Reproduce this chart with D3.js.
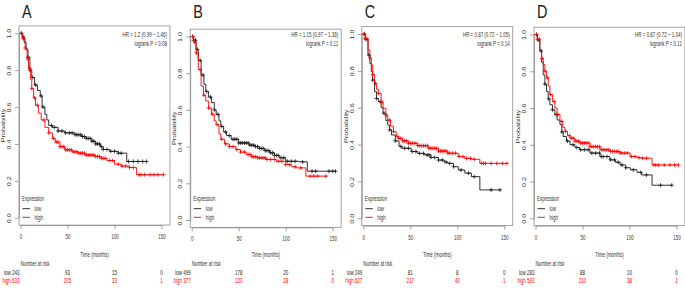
<!DOCTYPE html>
<html>
<head>
<meta charset="utf-8">
<script src="https://cdn.jsdelivr.net/npm/d3@7"></script>
<style>
  body { margin: 0; background: #fff; }
  svg text { font-family: "Liberation Sans", Arial, sans-serif; }
</style>
</head>
<body>
<div id="chart-area"></div>
<script>
/*
*   four Kaplan-Meier panels
*/
// panel texts
let panelLabels = ["A", "B", "C", "D"];
let hrTexts = ["HR = 1.2 (0.99 \u2212 1.46)", "HR = 1.15 (0.97 \u2212 1.36)",
               "HR = 0.87 (0.72 \u2212 1.05)", "HR = 0.87 (0.72 \u2212 1.04)"];
let pTexts = ["logrank P = 0.08", "logrank P = 0.11", "logrank P = 0.14", "logrank P = 0.11"];

let xTicks = [0, 50, 100, 150];
let yTicks = [0, 0.2, 0.4, 0.6, 0.8, 1.0];
let groupNames = ["low", "high"];

// number at risk at 0, 50, 100, 150 months
let riskLowA = [243, 93, 15, 0],  riskHighA = [633, 205, 33, 1];
let riskLowB = [499, 178, 20, 1], riskHighB = [377, 120, 28, 0];
let riskLowC = [249, 81, 8, 0],   riskHighC = [627, 217, 40, 1];
let riskLowD = [283, 88, 10, 0],  riskHighD = [593, 210, 38, 1];

// survival curves [months, probability]
let lowCurveA = [[0,1],[2,0.98],[4,0.95],[6,0.91],[8,0.87],[10,0.8],[12,0.76],[15,0.72],[18,0.69],[21,0.66],[23,0.6],[26,0.56],[28,0.53],[30,0.5],[34,0.49],[40,0.47],[47,0.46],[58,0.45],[65,0.44],[70,0.43],[76,0.415],[80,0.4],[85,0.385],[88,0.37],[95,0.36],[104,0.35],[113,0.305],[134,0.305]];
let highCurveA = [[0,1],[2,0.97],[5,0.92],[7,0.86],[8.5,0.81],[10.5,0.75],[12,0.7],[14,0.65],[16,0.61],[19,0.567],[22,0.53],[26,0.49],[30,0.46],[34,0.43],[37,0.41],[42,0.385],[47,0.368],[55,0.357],[62,0.35],[69,0.34],[79,0.332],[86,0.322],[92,0.31],[100,0.29],[107,0.28],[116,0.272],[123.5,0.233],[152,0.233]];
let lowCurveB = [[0,1],[2,0.98],[4.6,0.93],[7,0.87],[10,0.79],[13,0.74],[15,0.7],[18,0.67],[21,0.64],[24,0.6],[26,0.576],[29,0.54],[31,0.51],[34,0.48],[37,0.46],[42,0.44],[50,0.42],[61,0.408],[67,0.4],[72,0.39],[78,0.378],[83,0.366],[88,0.352],[93,0.339],[100,0.32],[114,0.317],[123,0.266],[153,0.266]];
let highCurveB = [[0,1],[2,0.97],[4.6,0.91],[7,0.82],[10,0.73],[12.5,0.68],[15,0.648],[18,0.61],[21,0.576],[24,0.54],[26,0.52],[29,0.47],[31,0.44],[35,0.415],[40,0.4],[47,0.384],[52,0.37],[58,0.357],[64,0.345],[70,0.339],[79,0.33],[90,0.32],[100,0.302],[106,0.29],[111,0.284],[121.5,0.239],[143,0.239]];
let lowCurveC = [[0,1],[2,0.97],[5,0.886],[7,0.84],[8.5,0.796],[10,0.75],[12,0.687],[14,0.65],[16,0.633],[19,0.6],[21,0.57],[24,0.53],[26,0.506],[28,0.48],[30,0.452],[34,0.42],[38,0.39],[41,0.38],[51,0.362],[58,0.352],[65,0.344],[72,0.33],[80,0.316],[86,0.305],[90,0.298],[96,0.28],[101,0.262],[108,0.245],[115,0.226],[124,0.154],[145.5,0.154]];
let highCurveC = [[0,1],[2,0.975],[5,0.913],[7,0.87],[8.5,0.832],[10,0.78],[12,0.732],[14,0.7],[16,0.678],[19,0.63],[21,0.597],[24,0.56],[26,0.533],[29,0.5],[32,0.47],[35,0.445],[37,0.434],[42,0.42],[48,0.407],[58,0.394],[69,0.38],[80,0.365],[90,0.353],[101,0.335],[108,0.325],[115,0.32],[124,0.298],[152.7,0.298]];
let lowCurveD = [[0,1],[2,0.97],[4.6,0.91],[6.5,0.85],[8.2,0.78],[10,0.73],[11.7,0.69],[13.5,0.65],[15.3,0.618],[18,0.59],[20.6,0.564],[23,0.535],[26,0.51],[28,0.47],[29.5,0.445],[33,0.42],[36.7,0.4],[42,0.385],[47,0.373],[58,0.355],[68.7,0.336],[79,0.318],[85,0.305],[90,0.29],[96,0.275],[101,0.264],[108,0.25],[113,0.236],[124,0.18],[145,0.18]];
let highCurveD = [[0,1],[2,0.975],[4.6,0.918],[6.5,0.87],[8.2,0.836],[10,0.8],[11.7,0.764],[13.5,0.72],[15.3,0.673],[18,0.635],[20.6,0.6],[23,0.565],[26,0.527],[29,0.495],[31.3,0.473],[34,0.45],[36.7,0.436],[42,0.42],[47,0.41],[58,0.39],[68.7,0.373],[79,0.364],[90,0.355],[100.7,0.336],[108,0.33],[113,0.327],[124,0.29],[152,0.29]];

// censored times (months)
let lowCensorA = [1,3,8,10,13,16,22,24,33,36,40,44,48,52,55,58,60,62,64,66,68,70,72,74,76,78,80,82,84,86,88,92,96,100,104,107,115,120,125,130,134];
let highCensorA = [1,3,5,8,10,12,15,18,25,30,35,38,40,42,44,46,48,50,52,54,56,58,60,62,64,66,68,70,72,74,76,78,80,82,84,86,88,90,95,98,104,108,112,116,120,126,128,132,138,142,146,152];
let lowCensorB = [1,2,4,6,9,12,16,20,24,28,32,36,40,44,46,48,50,52,54,56,58,60,62,64,66,68,70,72,74,76,78,80,82,84,86,88,90,92,95,98,102,106,110,118,128,132,146,150,153];
let highCensorB = [1,3,5,9,13,18,22,27,32,36,40,44,48,52,56,60,62,64,66,68,70,72,74,76,78,80,84,88,92,96,100,104,110,116,126,130,134,143];
let lowCensorC = [1,3,6,10,14,18,22,28,34,40,44,48,52,56,60,64,68,70,72,76,80,84,88,92,96,104,112,118,136,145.5];
let highCensorC = [1,2,4,7,10,13,16,20,24,28,32,36,38,40,42,44,46,48,50,52,54,56,58,60,62,64,66,68,70,72,74,76,78,80,82,84,86,88,90,92,95,98,102,106,110,114,118,126,128,130,136,142,148,152.7];
let lowCensorD = [1,3,6,10,14,18,22,28,34,40,44,48,52,56,60,64,68,70,72,76,80,84,88,92,96,104,112,118,133,145];
let highCensorD = [1,2,4,7,10,13,16,20,24,28,32,36,38,40,42,44,46,48,50,52,54,56,58,60,62,64,66,68,70,72,74,76,78,80,82,84,86,88,90,92,95,98,102,106,110,114,118,126,128,131,137,143,148,152];

// where each panel sits
let panelX0 = [20.5, 191.7, 363.3, 535.5];
let panelYOne = [33.3, 36.5, 34, 34.5];
let panelYZero = [217.7, 220, 218.3, 218.3];

let panels = [
    {low: lowCurveA, high: highCurveA, lowC: lowCensorA, highC: highCensorA, riskLow: riskLowA, riskHigh: riskHighA},
    {low: lowCurveB, high: highCurveB, lowC: lowCensorB, highC: highCensorB, riskLow: riskLowB, riskHigh: riskHighB},
    {low: lowCurveC, high: highCurveC, lowC: lowCensorC, highC: highCensorC, riskLow: riskLowC, riskHigh: riskHighC},
    {low: lowCurveD, high: highCurveD, lowC: lowCensorD, highC: highCensorD, riskLow: riskLowD, riskHigh: riskHighD}
];

let colors = {low: "#1a1a1a", high: "#ff0000"};
let boxColor = "#8c8c8c";
let textColor = "#333";
let squeeze = 0.62;     // the figure is squashed sideways
let fs = "7.2px";

let svg = d3.select("#chart-area")
            .append("svg")
            .attr("width", 685)
            .attr("height", 288);

// step lookup for censor marks
function survAt(curve, t) {
    let s = curve[0][1];
    curve.forEach(function(p){ if (p[0] <= t) s = p[1]; });
    return s;
}

// squeezed text
function addText(g, str, x, y, anchor, rotate) {
    return g.append("text")
        .text(str)
        .attr("transform", "translate(" + x + "," + y + ") scale(" + squeeze + ",1)" + (rotate ? " rotate(-90)" : ""))
        .attr("text-anchor", anchor || "start")
        .attr("font-size", fs)
        .attr("fill", textColor);
}

panels.forEach(function(p, i){
    let x0 = panelX0[i];
    let x = d3.scaleLinear().domain([0, 150]).range([x0, x0 + 141]);
    let y = d3.scaleLinear().domain([0, 1]).range([panelYZero[i], panelYOne[i]]);
    let left = x(-1.6), right = x(159);
    let top = y(1.04), bottom = y(-0.04);

    let g = svg.append("g");

    // panel letter
    g.append("text")
        .text(panelLabels[i])
        .attr("transform", "translate(" + (x0 + 1.5) + ",18) scale(0.78,1)")
        .attr("font-size", "18.5px")
        .attr("fill", "#222");

    // box
    g.append("rect")
        .attr("x", left)
        .attr("y", top)
        .attr("width", right - left)
        .attr("height", bottom - top)
        .attr("fill", "none")
        .attr("stroke", boxColor)
        .attr("stroke-width", 0.8);

    // x axis
    let xAxis = d3.axisBottom(x).tickValues(xTicks).tickSize(4).tickSizeOuter(0).tickPadding(5);
    let xg = g.append("g")
        .attr("class", "x axis")
        .attr("transform", "translate(0," + bottom + ")")
        .call(xAxis);
    xg.attr("font-family", null);
    xg.select(".domain").attr("stroke", boxColor).attr("stroke-width", 0.8);
    xg.selectAll("line").attr("stroke", boxColor).attr("stroke-width", 0.8);
    xg.selectAll("text")
        .attr("transform", "scale(" + squeeze + ",1)")
        .attr("font-size", fs)
        .attr("fill", textColor);

    // y axis
    let yAxis = d3.axisLeft(y).tickValues(yTicks).tickSize(4).tickSizeOuter(0)
        .tickFormat(d3.format(".1f"));
    let yg = g.append("g")
        .attr("class", "y axis")
        .attr("transform", "translate(" + left + ",0)")
        .call(yAxis);
    yg.attr("font-family", null);
    yg.select(".domain").attr("stroke", boxColor).attr("stroke-width", 0.8);
    yg.selectAll("line").attr("stroke", boxColor).attr("stroke-width", 0.8);
    yg.selectAll("text")
        .attr("x", null)
        .attr("dy", "0.35em")
        .attr("text-anchor", "middle")
        .attr("transform", "translate(-9.5,0) scale(" + squeeze + ",1) rotate(-90)")
        .attr("font-size", fs)
        .attr("fill", textColor);

    // axis labels
    addText(g, "Probability", x0 - 17, y(0.5), "middle", true).attr("dy", "0.35em");
    addText(g, "Time (months)", (left + right) / 2, 257, "middle");

    // HR and p value
    addText(g, hrTexts[i], right - 3, 37, "end");
    addText(g, pTexts[i], right - 3, 45.5, "end");

    // curves
    let line = d3.line()
        .x(function(d){ return x(d[0]); })
        .y(function(d){ return y(d[1]); })
        .curve(d3.curveStepAfter);

    groupNames.forEach(function(name){
        let curve = p[name];
        g.append("path")
            .datum(curve)
            .attr("d", line)
            .attr("fill", "none")
            .attr("stroke", colors[name])
            .attr("stroke-width", 0.9);

        g.selectAll(".cens-" + name)
            .data(p[name + "C"])
            .enter()
            .append("path")
            .attr("class", "cens-" + name)
            .attr("d", "M-2,0H2M0,-2V2")
            .attr("transform", function(t){
                return "translate(" + x(t) + "," + y(survAt(curve, t)) + ")";
            })
            .attr("stroke", colors[name])
            .attr("stroke-width", 0.8);
    });

    // legend
    addText(g, "Expression", x0 + 1.5, 201);
    groupNames.forEach(function(name, k){
        let ly = 208.7 + k * 8.6;
        g.append("line")
            .attr("x1", x0 + 2).attr("x2", x0 + 9.5)
            .attr("y1", ly).attr("y2", ly)
            .attr("stroke", colors[name])
            .attr("stroke-width", 0.9);
        addText(g, name, x0 + 14, ly + 2.3);
    });

    // number at risk
    addText(g, "Number at risk", x0, 266);
    let riskRows = [p.riskLow, p.riskHigh];
    riskRows.forEach(function(row, k){
        let name = groupNames[k];
        let ry = 274.5 + k * 8.7;
        row.forEach(function(d, j){
            let t = j === 0
                ? addText(g, name + " " + d, x(xTicks[j]) - 1, ry, "end")
                : addText(g, d, x(xTicks[j]), ry, "middle");
            t.attr("fill", k === 0 ? "#222" : colors.high);
        });
    });
});
</script>
</body>
</html>
